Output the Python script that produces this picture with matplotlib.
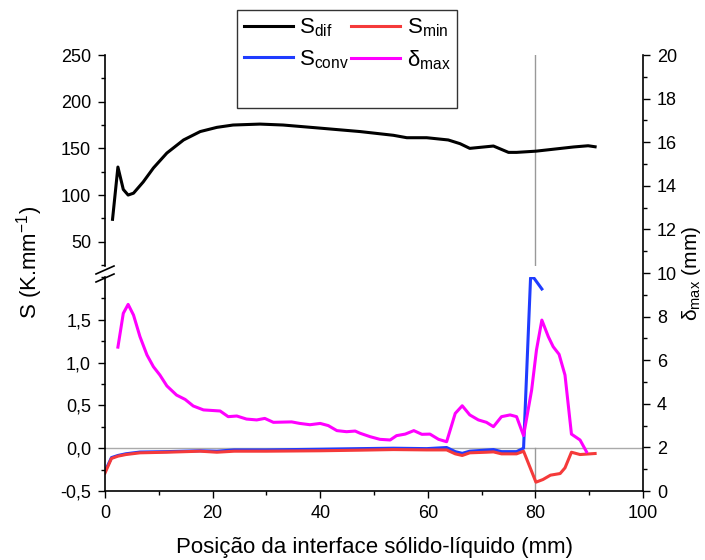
import matplotlib
matplotlib.use("Agg")
from matplotlib import pyplot
from matplotlib.lines import Line2D
from matplotlib.ticker import MultipleLocator, FuncFormatter

pyplot.rcParams["font.family"] = ["Liberation Sans", "DejaVu Sans"]
pyplot.rcParams["mathtext.fontset"] = "custom"
pyplot.rcParams["mathtext.rm"] = "Liberation Sans"
pyplot.rcParams["mathtext.it"] = "Liberation Sans:italic"

# S_dif (upper part of left axis)
dif_x = [1.4, 2.4, 3.4, 4.3, 5.3, 7.1, 9.0, 11.5, 14.6, 17.7, 20.8, 23.8, 28.8,
         33.1, 39.3, 47.4, 53.6, 56.1, 59.8, 63.8, 66.0, 67.8, 72.2, 75.0, 76.5,
         80.1, 87.1, 89.8, 91.1]
dif_y = [74, 130, 106, 100, 102, 114, 129, 145, 159, 168, 172.5, 175, 176,
         175, 172, 168, 164, 161.4, 161.4, 159, 155, 150, 152.5, 145.7, 145.7,
         147, 151.5, 152.8, 151.7]

# S_min (lower part of left axis)
min_x = [0, 1.2, 2.4, 3.9, 6.5, 11.5, 17.7, 20.8, 24.0, 30.0, 40.0, 47.4, 53.6,
         59.8, 63.5, 65.1, 66.4, 67.8, 70.9, 72.2, 73.7, 76.5, 77.8, 80.1, 81.4,
         82.8, 84.6, 85.5, 86.7, 88.3, 91.1]
min_y = [-0.29, -0.12, -0.093, -0.074, -0.054, -0.047, -0.035, -0.047, -0.035,
         -0.035, -0.03, -0.023, -0.016, -0.02, -0.02, -0.066, -0.085, -0.054,
         -0.047, -0.043, -0.066, -0.066, -0.035, -0.397, -0.366, -0.315, -0.296,
         -0.23, -0.047, -0.074, -0.062]

# S_conv (lower part of left axis)
conv_x = [0, 1.2, 2.4, 3.9, 6.5, 11.5, 17.7, 20.8, 24.0, 30.0, 40.0, 47.4, 53.6,
          59.8, 63.5, 65.1, 66.4, 67.8, 72.2, 73.7, 76.5, 77.8, 79.1, 79.7, 81.2]
conv_y = [-0.27, -0.11, -0.085, -0.065, -0.045, -0.04, -0.03, -0.035, -0.02,
          -0.02, -0.012, -0.005, 0.0, -0.005, 0.008, -0.04, -0.06, -0.035,
          -0.016, -0.04, -0.04, 0.0, 1.99, 1.99, 1.86]

# delta_max (right axis)
dmax_x = [2.4, 3.4, 4.3, 5.3, 6.5, 7.8, 9.0, 10.2, 11.5, 13.3, 14.9, 16.4, 18.3,
          21.4, 22.9, 24.5, 26.3, 28.2, 29.7, 31.3, 34.7, 36.2, 38.1, 40.0, 41.5,
          43.1, 44.9, 46.5, 47.4, 49.3, 51.1, 53.0, 54.2, 55.8, 57.4, 58.9, 60.4,
          62.0, 63.5, 65.1, 66.4, 67.8, 69.4, 70.9, 72.2, 73.7, 75.3, 76.5, 77.8,
          79.3, 80.2, 81.2, 82.4, 83.3, 84.4, 85.5, 86.7, 88.3, 89.5]
dmax_y = [6.6, 8.15, 8.56, 8.07, 7.08, 6.24, 5.7, 5.32, 4.82, 4.4, 4.2, 3.9, 3.72,
          3.67, 3.41, 3.44, 3.3, 3.26, 3.33, 3.15, 3.17, 3.1, 3.04, 3.1, 3.0,
          2.77, 2.72, 2.75, 2.65, 2.49, 2.37, 2.34, 2.54, 2.61, 2.77, 2.6, 2.61,
          2.37, 2.26, 3.56, 3.91, 3.49, 3.26, 3.15, 2.95, 3.41, 3.49, 3.41, 2.54,
          4.63, 6.47, 7.84, 7.08, 6.62, 6.27, 5.32, 2.61, 2.34, 1.8]


def comma(value, _pos):
    return f"{value:.1f}".replace(".", ",")


def main() -> None:
    figure = pyplot.figure(figsize=(7.05, 5.6), dpi=100)
    left, width = 105 / 705, 538 / 705
    red, blue, magenta = "#f53a3a", "#1f3cff", "#ff00ff"
    lw = 2.2

    # lower panel of the broken left axis
    ax_lo = figure.add_axes([left, 1 - 491 / 560, width, 214 / 560])
    ax_lo.set_xlim(0, 100)
    ax_lo.set_ylim(-0.5, 2.0)
    ax_lo.axhline(0, color="#aaaaaa", lw=1, zorder=1)
    ax_lo.axvline(80, ymax=0.2, color="#999999", lw=1, zorder=1)
    ax_lo.plot(conv_x, conv_y, color=blue, lw=lw)
    ax_lo.plot(min_x, min_y, color=red, lw=lw)
    ax_lo.spines[["top", "right"]].set_visible(False)
    ax_lo.xaxis.set_major_locator(MultipleLocator(20))
    ax_lo.xaxis.set_minor_locator(MultipleLocator(10))
    ax_lo.set_yticks([-0.5, 0.0, 0.5, 1.0, 1.5])
    ax_lo.yaxis.set_minor_locator(MultipleLocator(0.25))
    ax_lo.yaxis.set_major_formatter(FuncFormatter(comma))
    ax_lo.set_xlabel("Posição da interface sólido-líquido (mm)", fontsize=16, labelpad=11)

    # upper panel
    ax_hi = figure.add_axes([left, 1 - 266 / 560, width, 211 / 560])
    ax_hi.set_xlim(0, 100)
    ax_hi.set_ylim(24, 250)
    ax_hi.patch.set_visible(False)
    ax_hi.axvline(80, color="#999999", lw=1, zorder=1)
    ax_hi.plot(dif_x, dif_y, color="black", lw=lw)
    ax_hi.spines[["top", "right", "bottom"]].set_visible(False)
    ax_hi.set_xticks([])
    ax_hi.set_yticks([50, 100, 150, 200, 250])
    ax_hi.yaxis.set_minor_locator(MultipleLocator(25))

    # right axis, whole height
    ax_r = figure.add_axes([left, 1 - 491 / 560, width, 436 / 560])
    ax_r.set_xlim(0, 100)
    ax_r.set_ylim(0, 20)
    ax_r.patch.set_visible(False)
    ax_r.plot(dmax_x, dmax_y, color=magenta, lw=lw)
    ax_r.spines[["top", "left", "bottom"]].set_visible(False)
    ax_r.set_xticks([])
    ax_r.yaxis.tick_right()
    ax_r.yaxis.set_label_position("right")
    ax_r.yaxis.set_major_locator(MultipleLocator(2))
    ax_r.yaxis.set_minor_locator(MultipleLocator(1))
    ax_r.set_ylabel(r"δ$_{\mathrm{max}}$ (mm)", fontsize=15, labelpad=2)

    for axes in (ax_lo, ax_hi, ax_r):
        axes.tick_params(which="major", direction="out", length=5, width=1,
                         labelsize=13, pad=5)
        axes.tick_params(which="minor", direction="out", length=3, width=1)
        for spine in axes.spines.values():
            spine.set_linewidth(1.2)

    # axis break marks
    bx = left
    for yb in (1 - 270 / 560, 1 - 278 / 560):
        figure.add_artist(Line2D([bx - 9 / 705, bx + 9 / 705],
                                 [yb - 4 / 560, yb + 4 / 560],
                                 color="black", lw=1.2))

    figure.text(30 / 705, 1 - 262 / 560, "S (K.mm$^{\\mathrm{-1}}$)",
                rotation=90, ha="center", va="center", fontsize=16)

    handles = [
        Line2D([], [], color="black", lw=lw),
        Line2D([], [], color=blue, lw=lw),
        Line2D([], [], color="none"),
        Line2D([], [], color=red, lw=lw),
        Line2D([], [], color=magenta, lw=lw),
        Line2D([], [], color="none"),
    ]
    labels = [r"S$_{\mathrm{dif}}$", r"S$_{\mathrm{conv}}$", " ",
              r"S$_{\mathrm{min}}$", r"δ$_{\mathrm{max}}$", " "]
    legend = figure.legend(handles, labels, ncol=2, loc="upper left",
                           bbox_to_anchor=(237 / 705, 1 - 10 / 560),
                           fontsize=16, frameon=True, fancybox=False,
                           edgecolor="black", handlelength=2.2,
                           handletextpad=0.3, columnspacing=0.1,
                           borderpad=0.3, labelspacing=0.4, borderaxespad=0)
    legend.get_frame().set_linewidth(1)

    figure.savefig("out.png", dpi=100)


if __name__ == "__main__":
    main()
